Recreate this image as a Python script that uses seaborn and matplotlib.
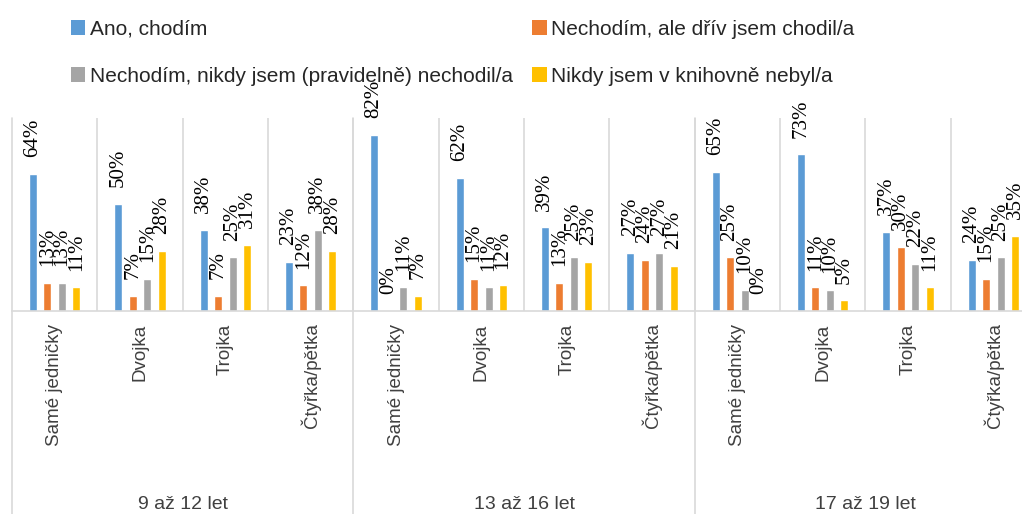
import numpy as np
import pandas as pd
import matplotlib
matplotlib.use("Agg")
import matplotlib.pyplot as plt
import matplotlib.transforms as mtransforms
from matplotlib.patches import Patch
import seaborn as sns

# ---------------- data ----------------
age_groups = ["9 až 12 let", "13 až 16 let", "17 až 19 let"]
grades = ["Samé jedničky", "Dvojka", "Trojka", "Čtyřka/pětka"]
answers = ["Ano, chodím",
           "Nechodím, ale dřív jsem chodil/a",
           "Nechodím, nikdy jsem (pravidelně) nechodil/a",
           "Nikdy jsem v knihovně nebyl/a"]
ano_chodim = [64, 50, 38, 23, 82, 62, 39, 27, 65, 73, 37, 24]
driv_chodil = [13, 7, 7, 12, 0, 15, 13, 24, 25, 11, 30, 15]
nikdy_pravidelne = [13, 15, 25, 38, 11, 11, 25, 27, 10, 10, 22, 25]
nikdy_nebyl = [11, 28, 31, 28, 7, 12, 23, 21, 0, 5, 11, 35]
colors = ["#5B9BD5", "#ED7D31", "#A5A5A5", "#FFC000"]

series = [ano_chodim, driv_chodil, nikdy_pravidelne, nikdy_nebyl]
keys = [f"{a}|{g}" for a in age_groups for g in grades]
rows = []
for ans, vals in zip(answers, series):
    for k, v in zip(keys, vals):
        rows.append({"key": k, "answer": ans, "value": v})
df = pd.DataFrame(rows)

# ---------------- figure ----------------
sns.set_style("white")
plt.rcParams["font.family"] = ["Liberation Sans", "DejaVu Sans"]

W, H = 1022, 514
fig = plt.figure(figsize=(W / 100, H / 100), dpi=100, facecolor="white")
left_px, right_px, top_px, base_px = 12, 1036, 118, 311
ax = fig.add_axes([left_px / W, 1 - base_px / H, (right_px - left_px) / W, (base_px - top_px) / H])

sns.barplot(data=df, x="key", y="value", hue="answer", order=keys, hue_order=answers,
            palette=colors, saturation=1, width=0.68, gap=0.45, errorbar=None,
            legend=False, ax=ax, zorder=2)

ax.set_ylim(0, 90)
ax.set_xlim(-0.5, len(keys) - 0.5)
ax.set_xlabel("")
ax.set_ylabel("")
ax.set_yticks([])
for s in ["top", "left", "right"]:
    ax.spines[s].set_visible(False)
ax.spines["bottom"].set_color("#d9d9d9")
ax.spines["bottom"].set_linewidth(1.2)

# data labels
for cont, vals in zip(ax.containers, series):
    for bar, v in zip(cont, vals):
        ax.annotate(f"{v}%", xy=(bar.get_x() + bar.get_width() / 2, bar.get_height()),
                    xytext=(0, 12), textcoords="offset points", rotation=90,
                    ha="center", va="bottom", fontsize=15, color="black",
                    family=["Liberation Serif", "DejaVu Serif"], annotation_clip=False)

# category tick labels
ax.set_xticks(range(len(keys)))
ax.set_xticklabels(grades * len(age_groups), rotation=90, fontsize=13.5, color="#404040")
ax.tick_params(axis="x", length=0, pad=9)

# vertical gridlines between categories
for b in np.arange(0.5, len(keys) - 0.5, 1.0):
    ax.axvline(b, color="#d9d9d9", lw=1.2, zorder=0)

# group separators extending below the axis
blend = mtransforms.blended_transform_factory(ax.transData, ax.transAxes)
bottom_frac = -(H - base_px) / (base_px - top_px)
for i in range(len(age_groups) + 1):
    x = -0.5 + 4 * i
    ax.plot([x, x], [bottom_frac, 1], color="#d9d9d9", lw=1.2, transform=blend,
            clip_on=False, zorder=0)

# group labels
label_y = -(505 - base_px) / (base_px - top_px)
for i, a in enumerate(age_groups):
    ax.text(1.5 + 4 * i, label_y, a, transform=blend, ha="center", va="center",
            fontsize=14, color="#404040")

# legend (row-wise order)
handles = [Patch(facecolor=c, edgecolor="none", label=l) for c, l in zip(colors, answers)]
order = [0, 2, 1, 3]
fig.legend(handles=[handles[i] for i in order], loc="upper left",
           bbox_to_anchor=(52 / W, 1 - 1 / H), ncol=2, frameon=False,
           handlelength=0.7, handleheight=0.7, handletextpad=0.2,
           columnspacing=0.95, labelspacing=1.35, fontsize=15)

fig.savefig("out.png", dpi=100, facecolor="white")
